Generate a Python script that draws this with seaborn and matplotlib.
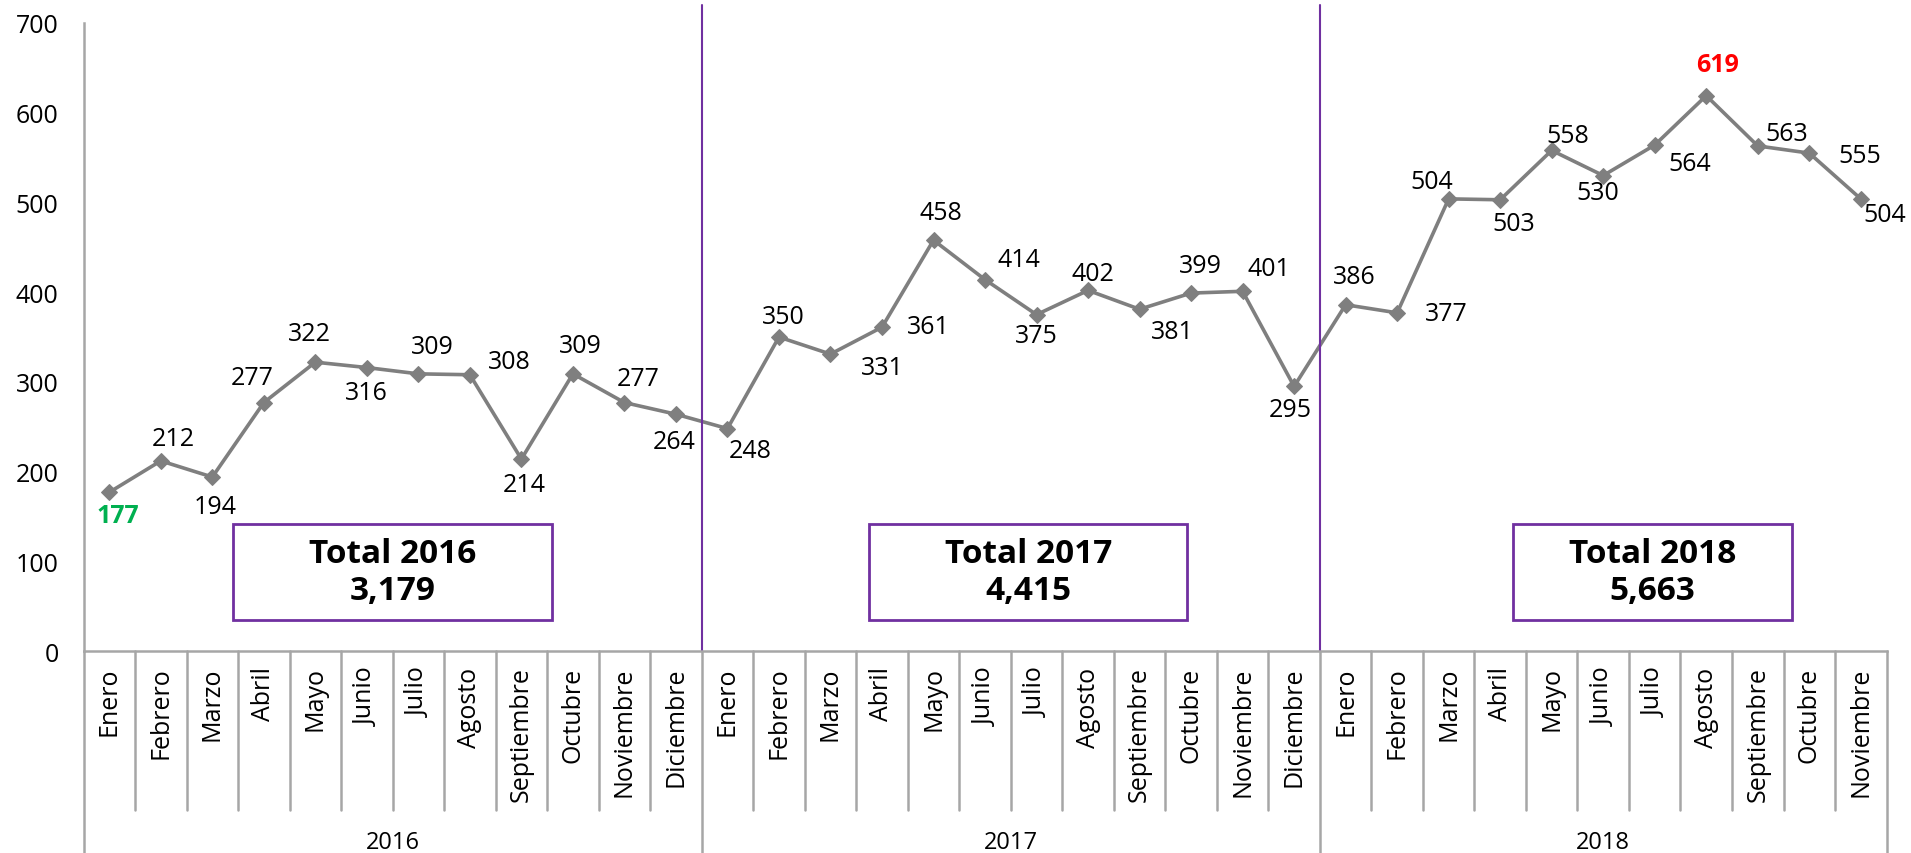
import numpy as np
import pandas as pd
import matplotlib
matplotlib.use("Agg")
import matplotlib.pyplot as plt
from matplotlib.patches import Rectangle
import seaborn as sns

# ---------------- data ----------------
years = ["2016", "2017", "2018"]
months_2016 = ["Enero", "Febrero", "Marzo", "Abril", "Mayo", "Junio", "Julio",
               "Agosto", "Septiembre", "Octubre", "Noviembre", "Diciembre"]
months_2017 = ["Enero", "Febrero", "Marzo", "Abril", "Mayo", "Junio", "Julio",
               "Agosto", "Septiembre", "Octubre", "Noviembre", "Diciembre"]
months_2018 = ["Enero", "Febrero", "Marzo", "Abril", "Mayo", "Junio", "Julio",
               "Agosto", "Septiembre", "Octubre", "Noviembre"]
values_2016 = [177, 212, 194, 277, 322, 316, 309, 308, 214, 309, 277, 264]
values_2017 = [248, 350, 331, 361, 458, 414, 375, 402, 381, 399, 401, 295]
values_2018 = [386, 377, 504, 503, 558, 530, 564, 619, 563, 555, 504]
totals = ["3,179", "4,415", "5,663"]

# ---------------- style ----------------
# label offsets in pixels (dx right, dy down) relative to each point
label_offsets = [
    (9, 23), (13, -22), (3, 29), (-12, -25), (-6, -29), (0, 25), (14, -27),
    (39, -13), (3, 25), (7, -28), (14, -24), (-2, 27),
    (23, 22), (4, -21), (52, 13), (46, -1), (7, -28), (34, -20), (0, 21),
    (5, -17), (33, 22), (9, -28), (26, -23), (-4, 23),
    (9, -28), (49, 1), (-17, -17), (14, 24), (16, -15), (-5, 17), (35, 18),
    (11, -31), (29, -12), (50, 2), (24, 16),
]
box_spans = [(2.40, 8.60), (14.75, 20.93), (27.25, 32.67)]
box_y = (34.7, 141.6)
GRAY = "#7F7F7F"
AXGRAY = "#A6A6A6"
PURPLE = "#7030A0"

sns.set_style("white")
plt.rcParams["font.family"] = ["Open Sans", "DejaVu Sans"]
plt.rcParams["text.color"] = "black"
plt.rcParams["xtick.labelcolor"] = "black"
plt.rcParams["ytick.labelcolor"] = "black"

months = months_2016 + months_2017 + months_2018
values = values_2016 + values_2017 + values_2018
year_of = [years[0]] * len(months_2016) + [years[1]] * len(months_2017) + [years[2]] * len(months_2018)
n = len(values)
df = pd.DataFrame({"idx": np.arange(n), "value": values, "month": months, "year": year_of})

fig = plt.figure(figsize=(19.11, 8.54), dpi=100)
ax = fig.add_axes([0.0437, 0.2364, 0.9435, 0.7355])

sns.lineplot(data=df, x="idx", y="value", ax=ax, color=GRAY, linewidth=2.6,
             marker="D", markersize=8, markeredgecolor=GRAY, markerfacecolor=GRAY)

ax.set_xlim(-0.5, n - 0.5)
ax.set_ylim(0, 700)
ax.set_yticks(range(0, 701, 100))
ax.set_xticks(df["idx"])
ax.set_xticklabels(months, rotation=90, fontsize=18)
ax.set_xlabel("")
ax.set_ylabel("")
ax.tick_params(axis="x", length=0, pad=11)
ax.tick_params(axis="y", length=7, width=1.5, color=AXGRAY, pad=11, labelsize=18)
for s in ["top", "right"]:
    ax.spines[s].set_visible(False)
ax.spines["left"].set_color(AXGRAY)
ax.spines["left"].set_linewidth(1.8)
ax.spines["bottom"].set_color(AXGRAY)
ax.spines["bottom"].set_linewidth(1.8)

# value labels
imax = int(np.argmax(values))
imin = int(np.argmin(values))
for i, (v, (dx, dy)) in enumerate(zip(values, label_offsets)):
    color, weight = "black", "normal"
    if i == imax:
        color, weight = "#FF0000", "bold"
    elif i == imin:
        color, weight = "#00B050", "bold"
    ax.annotate(f"{v}", (i, v), xytext=(dx, -dy), textcoords="offset pixels",
                ha="center", va="center", fontsize=18, color=color, fontweight=weight)

# category separators
xt = ax.get_xaxis_transform()
sizes = [len(months_2016), len(months_2017), len(months_2018)]
bounds = np.cumsum([0] + sizes) - 0.5
for b in np.arange(-0.5, n, 1.0):
    is_year = np.any(np.isclose(bounds, b))
    y_end = -0.322 if is_year else -0.253
    ax.plot([b, b], [0, y_end], transform=xt, color=AXGRAY, lw=1.8, clip_on=False)

# year labels
for k, yname in enumerate(years):
    ax.text((bounds[k] + bounds[k + 1]) / 2, -0.304, yname, transform=xt,
            ha="center", va="center", fontsize=17)

# purple year dividers
for b in bounds[1:-1]:
    ax.plot([b, b], [0, 1.029], transform=xt, color=PURPLE, lw=1.5, clip_on=False)

# total boxes
for k, yname in enumerate(years):
    x0, x1 = box_spans[k]
    ax.add_patch(Rectangle((x0, box_y[0]), x1 - x0, box_y[1] - box_y[0],
                           facecolor="white", edgecolor=PURPLE, lw=2, zorder=3))
    ax.text((x0 + x1) / 2, (box_y[0] + box_y[1]) / 2, f"Total {yname}\n{totals[k]}",
            ha="center", va="center", fontsize=24, fontweight="bold",
            linespacing=1.15, zorder=4)

fig.savefig("out.png", dpi=100)
